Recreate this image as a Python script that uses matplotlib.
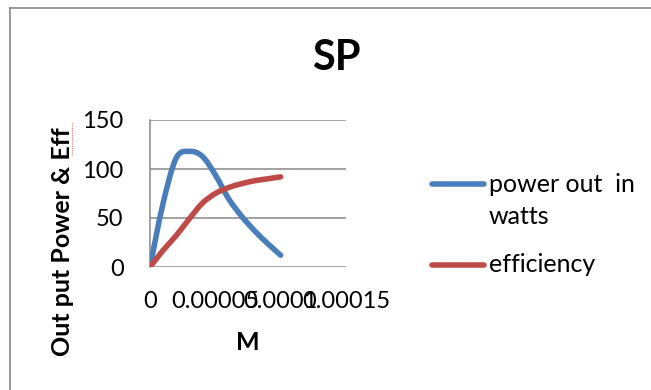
import matplotlib.pyplot as plt
from matplotlib.lines import Line2D
from matplotlib.path import Path
from matplotlib.patches import PathPatch
import numpy as np

plt.rcParams['font.family'] = ['Lato', 'DejaVu Sans']

# M values (x) and the two measured series
m = [0, 0.00001, 0.00002, 0.00003, 0.00004, 0.00005,
     0.00006, 0.00007, 0.00008, 0.00009, 0.0001]
power_out = [0, 65, 111, 118, 113, 94, 70, 52, 37, 24, 12]
efficiency = [0, 17, 32, 49, 65, 75, 81, 85, 88, 90, 92]

x_ticks = [0, 0.00005, 0.0001, 0.00015]
x_tick_labels = ["0", "0.00005", "0.0001", "0.00015"]
y_ticks = [0, 50, 100, 150]

blue = "#4A7EBB"
red = "#BE4B48"
grey = "#878787"


def smooth_path(xs, ys):
    # smoothed line through the points (Catmull-Rom as cubic Bezier)
    p = np.column_stack([xs, ys]).astype(float)
    verts = [p[0]]
    codes = [Path.MOVETO]
    n = len(p)
    for i in range(n - 1):
        p0 = p[max(i - 1, 0)]
        p1 = p[i]
        p2 = p[i + 1]
        p3 = p[min(i + 2, n - 1)]
        c1 = p1 + (p2 - p0) / 6
        c2 = p2 - (p3 - p1) / 6
        verts += [c1, c2, p2]
        codes += [Path.CURVE4] * 3
    return Path(verts, codes)


W, H = 651, 390
fig = plt.figure(figsize=(W / 100, H / 100), dpi=100)

# chart frame (only left and top edges show)
fig.add_artist(Line2D([10 / W, 10 / W], [0, 1 - 8 / H], color=grey, lw=1.2))
fig.add_artist(Line2D([10 / W, 1], [1 - 8 / H, 1 - 8 / H], color=grey, lw=1.2))

ax = fig.add_axes([150 / W, 1 - 267 / H, 196 / W, 147 / H])
for ys, col in [(power_out, blue), (efficiency, red)]:
    ax.add_patch(PathPatch(smooth_path(m, ys), facecolor="none", edgecolor=col,
                           lw=4, capstyle="round", joinstyle="round", zorder=3))

ax.set_xlim(0, 0.00015)
ax.set_ylim(0, 150)
ax.set_xticks(x_ticks)
ax.set_xticklabels(x_tick_labels)
ax.set_yticks(y_ticks)
ax.tick_params(axis="both", length=0, labelsize=17, colors="black")
ax.tick_params(axis="x", pad=17)
ax.tick_params(axis="y", pad=19)
ax.grid(axis="y", color=grey, lw=1.1)
for side in ["top", "right", "bottom"]:
    ax.spines[side].set_visible(False)
ax.spines["left"].set_color(grey)
ax.spines["left"].set_linewidth(1.1)

fig.text(336 / W, 1 - 58 / H, "SP", fontsize=30, fontweight="bold",
         ha="center", va="center")
fig.text(62 / W, 1 - 242 / H, "Out put Power & Eff", fontsize=18,
         fontweight="bold", rotation=90, ha="center", va="center")
fig.text(248 / W, 1 - 342 / H, "M", fontsize=18, fontweight="bold",
         ha="center", va="center")

# spell-check squiggle under "Eff"
fig.add_artist(Line2D([72 / W, 72 / W], [1 - 123 / H, 1 - 155 / H],
                      color="#E07070", lw=0.8, ls=(0, (1, 1))))

# legend
fig.add_artist(Line2D([432 / W, 484 / W], [1 - 184 / H, 1 - 184 / H],
                      color=blue, lw=4, solid_capstyle="round"))
fig.add_artist(Line2D([432 / W, 484 / W], [1 - 265 / H, 1 - 265 / H],
                      color=red, lw=4, solid_capstyle="round"))
fig.text(489 / W, 1 - 185 / H, "power out  in", fontsize=18, va="center")
fig.text(489 / W, 1 - 216 / H, "watts", fontsize=18, va="center")
fig.text(489 / W, 1 - 265 / H, "efficiency", fontsize=18, va="center")

fig.savefig("out.png", dpi=100)
